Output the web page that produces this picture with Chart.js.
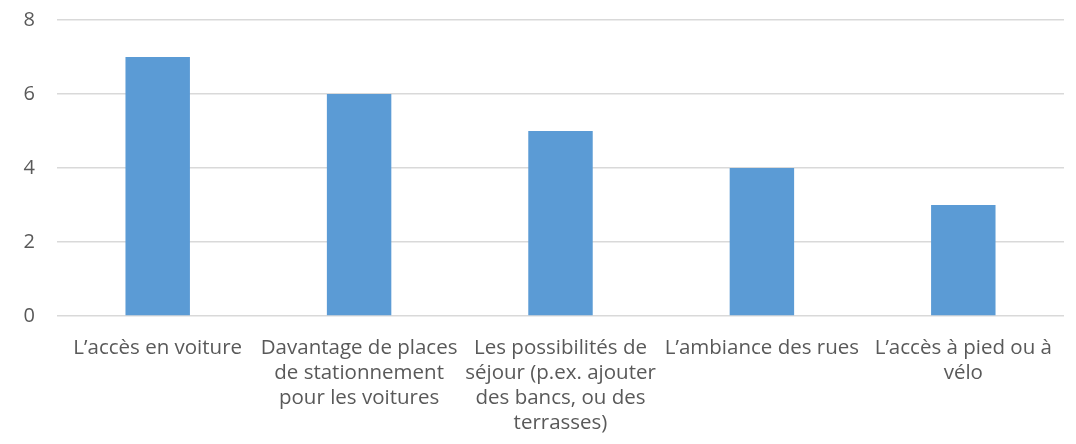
<!DOCTYPE html>
<html>
<head>
<meta charset="utf-8">
<script src="https://cdn.jsdelivr.net/npm/chart.js@4/dist/chart.umd.min.js"></script>
<style>
  body { margin: 0; background: #fff; }
</style>
</head>
<body>
<canvas id="chart" width="1076" height="444"></canvas>
<script>
// categories (already split into lines as in the reference)
var categories = [
	['L\u2019accès en voiture'],
	['Davantage de places', 'de stationnement', 'pour les voitures'],
	['Les possibilités de', 'séjour (p.ex. ajouter', 'des bancs, ou des', 'terrasses)'],
	['L\u2019ambiance des rues'],
	['L\u2019accès à pied ou à', 'vélo']
];
var values = [7, 6, 5, 4, 3];
var yTicks = [0, 2, 4, 6, 8];

var ctx = document.getElementById('chart').getContext('2d');
var chart = new Chart(ctx, {
	type: 'bar',
	data: {
		labels: categories,
		datasets: [{
			data: values,
			backgroundColor: '#5B9BD5',
			barPercentage: 0.32,
			categoryPercentage: 1
		}]
	},
	options: {
		responsive: false,
		animation: false,
		layout: { padding: { top: 20, right: 12, left: 0, bottom: 0 } },
		plugins: { legend: { display: false }, tooltip: { enabled: false } },
		scales: {
			x: {
				grid: { display: false, drawTicks: false },
				border: { display: false },
				ticks: {
					color: '#595959',
					font: { family: 'Open Sans', size: 20.5, lineHeight: 1.22 },
					padding: 20,
					maxRotation: 0,
					autoSkip: false
				},
				afterFit: function (s) { s.height = 128; }
			},
			y: {
				min: 0,
				max: 8,
				afterBuildTicks: function (s) { s.ticks = yTicks.map(function (v) { return { value: v }; }); },
				grid: { color: '#D9D9D9', lineWidth: 1.5, drawTicks: false },
				border: { display: false },
				ticks: {
					color: '#595959',
					font: { family: 'Open Sans', size: 20 },
					padding: 22
				},
				afterFit: function (s) { s.width = 57; s.paddingTop = 0; s.paddingBottom = 0; }
			}
		}
	}
});
</script>
</body>
</html>
